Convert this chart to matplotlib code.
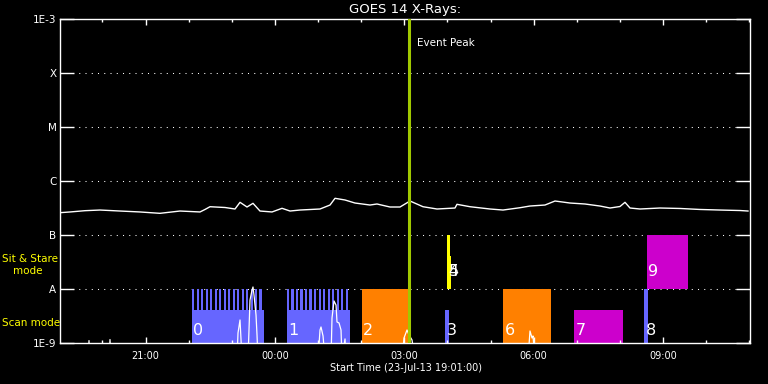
import numpy as np
import matplotlib
matplotlib.use("Agg")
import matplotlib.pyplot as plt
from matplotlib.ticker import FixedLocator, NullLocator, FixedFormatter
from matplotlib.transforms import blended_transform_factory

# ---------------- data ----------------
title = "GOES 14 X-Rays:"
x_label = "Start Time (23-Jul-13 19:01:00)"
# time axis: hours since 23-Jul-13 19:00
t_range = (1 / 60, 16 + 1 / 60)
hour_ticks = [2, 5, 8, 11, 14]
hour_labels = ["21:00", "00:00", "03:00", "06:00", "09:00"]
hour_minor = list(range(1, 17))

flux_levels = [1e-9, 1e-8, 1e-7, 1e-6, 1e-5, 1e-4, 1e-3]
flux_labels = ["1E-9", "A", "B", "C", "M", "X", "1E-3"]
grid_levels = [1e-8, 1e-7, 1e-6, 1e-5, 1e-4]

# GOES long channel (1-8 A)
goes_t = [0.017, 0.249, 0.596, 0.944, 1.408, 1.872, 2.335, 2.799, 3.263, 3.379,
          3.495, 3.843, 4.075, 4.191, 4.353, 4.492, 4.654, 4.933, 5.165, 5.350,
          5.582, 6.046, 6.278, 6.394, 6.625, 6.857, 7.205, 7.367, 7.669, 7.901,
          8.017, 8.133, 8.434, 8.759, 9.176, 9.222, 9.524, 9.988, 10.289, 10.683,
          10.915, 11.263, 11.495, 11.843, 12.190, 12.538, 12.770, 13.002, 13.118,
          13.234, 13.466, 13.930, 14.393, 14.857, 15.321, 15.785, 15.970]
goes_flux = [2.59e-7, 2.67e-7, 2.82e-7, 2.90e-7, 2.78e-7, 2.67e-7, 2.52e-7, 2.78e-7,
             2.67e-7, 2.97e-7, 3.34e-7, 3.23e-7, 3.03e-7, 4.03e-7, 3.30e-7, 3.86e-7,
             2.78e-7, 2.67e-7, 3.12e-7, 2.78e-7, 2.90e-7, 3.03e-7, 3.59e-7, 4.78e-7,
             4.45e-7, 3.91e-7, 3.59e-7, 3.75e-7, 3.30e-7, 3.30e-7, 3.75e-7, 4.26e-7,
             3.34e-7, 3.03e-7, 3.16e-7, 3.70e-7, 3.34e-7, 3.03e-7, 2.90e-7, 3.20e-7,
             3.44e-7, 3.59e-7, 4.26e-7, 3.91e-7, 3.75e-7, 3.44e-7, 3.16e-7, 3.37e-7,
             4.03e-7, 3.16e-7, 3.03e-7, 3.16e-7, 3.10e-7, 2.97e-7, 2.90e-7, 2.84e-7,
             2.78e-7]

# GOES short channel (0.5-4 A), mostly below 1E-9
low_t = [0.666, 0.689, 0.712,
         1.153, 1.176, 1.199,
         4.121, 4.144, 4.191, 4.237,
         4.376, 4.399, 4.423, 4.469, 4.492, 4.515, 4.538, 4.562, 4.585, 4.608,
         6.000, 6.046, 6.069, 6.116, 6.162,
         6.301, 6.324, 6.371, 6.417, 6.440, 6.487, 6.533, 6.556, 6.626, 6.649,
         7.947, 7.994, 8.063, 8.110, 8.179, 8.249,
         10.869, 10.915, 10.962, 10.985, 11.031]
low_flux = [5e-10, 1.11e-9, 5e-10,
            5e-10, 1.16e-9, 5e-10,
            5e-10, 1.53e-9, 2.67e-9, 5e-10,
            5e-10, 1.74e-9, 6.26e-9, 9.58e-9, 1.09e-8, 7.74e-9, 5.05e-9, 3.30e-9, 1.41e-9, 5e-10,
            5e-10, 1.74e-9, 1.98e-9, 1.35e-9, 5e-10,
            5e-10, 2.90e-9, 6.00e-9, 5.05e-9, 2.45e-9, 2.35e-9, 1.74e-9, 5e-10, 1.19e-9, 5e-10,
            5e-10, 1.24e-9, 1.74e-9, 1.41e-9, 1.14e-9, 5e-10,
            5e-10, 1.67e-9, 1.24e-9, 1.35e-9, 5e-10]

event_t = 8.11
event_label = "Event Peak"

# IRIS observation blocks
block_ids = ["0", "1", "2", "3", "4", "5", "6", "7", "8", "9"]
block_start = [3.078, 5.280, 7.019, 8.944, 8.994, 8.994, 10.289, 11.936, 13.559, 13.629]
block_end = [4.747, 6.742, 8.086, 9.037, 9.060, 9.083, 11.402, 13.072, 13.652, 14.579]
block_bottom = [1e-9, 1e-9, 1e-9, 1e-9, 1e-8, 1e-8, 1e-9, 1e-9, 1e-9, 1e-8]
block_top = [4.08e-9, 4.08e-9, 1e-8, 4.08e-9, 1e-7, 4.08e-8, 1e-8, 4.08e-9, 1e-8, 1e-7]
block_color = ["#6666ff", "#6666ff", "#ff8000", "#6666ff", "#ffff00", "#ffff00",
               "#ff8000", "#cc00cc", "#6666ff", "#cc00cc"]
label_y = [1.67e-9, 1.67e-9, 1.67e-9, 1.67e-9, 2.07e-8, 2.07e-8, 1.67e-9, 1.67e-9,
           1.67e-9, 2.07e-8]
# raster steps drawn as comb on top of the scan blocks 0 and 1
comb_blocks = [0, 1]
comb_steps = [16, 14]
comb_top = 1e-8

mode_labels = ["Sit & Stare", "mode", "Scan mode"]

# ---------------- plot ----------------
plt.rcParams["font.family"] = ["DejaVu Sans"]
fig = plt.figure(figsize=(7.68, 3.84), dpi=100, facecolor="black")
ax = fig.add_axes([60 / 768, 41 / 384, 690 / 768, 324 / 384], facecolor="black")
ax.set_yscale("log")
ax.set_xlim(*t_range)
ax.set_ylim(flux_levels[0], flux_levels[-1])

# grid (below blocks)
for lv in grid_levels:
    ax.axhline(lv, color="white", lw=0.75, ls=(0, (1, 5)), zorder=0.5)

# blocks
for i in range(len(block_ids)):
    ax.bar(block_start[i], block_top[i] - block_bottom[i], bottom=block_bottom[i],
           width=block_end[i] - block_start[i], align="edge",
           color=block_color[i], linewidth=0, zorder=1)
for bi, n in zip(comb_blocks, comb_steps):
    period = (block_end[bi] - block_start[bi]) / n
    xs = block_start[bi] + period * np.arange(n)
    ax.bar(xs, comb_top - block_top[bi], bottom=block_top[bi], width=period * 0.5,
           align="edge", color=block_color[bi], linewidth=0, zorder=1)

# curves
ax.plot(goes_t, goes_flux, color="white", lw=1.0, zorder=2)
ax.plot(low_t, low_flux, color="white", lw=0.9, zorder=2)

# block labels
for i in range(len(block_ids)):
    ax.annotate(block_ids[i], xy=(block_start[i], label_y[i]), xytext=(1, 0),
                textcoords="offset points", color="white", fontsize=11.5,
                ha="left", va="center", zorder=4)

# event line
ax.axvline(event_t, color="#a0c800", lw=2.2, zorder=3)
trans = blended_transform_factory(ax.transData, ax.transAxes)
ax.annotate(event_label, xy=(event_t, 0.926), xycoords=trans, xytext=(6, 0),
            textcoords="offset points", color="white", fontsize=7.5,
            ha="left", va="center")

# axes styling
for sp in ax.spines.values():
    sp.set_color("white")
    sp.set_linewidth(1)
ax.yaxis.set_major_locator(FixedLocator(flux_levels))
ax.yaxis.set_major_formatter(FixedFormatter(flux_labels))
ax.yaxis.set_minor_locator(NullLocator())
ax.xaxis.set_major_locator(FixedLocator(hour_ticks))
ax.xaxis.set_major_formatter(FixedFormatter(hour_labels))
ax.xaxis.set_minor_locator(FixedLocator(hour_minor))
ax.tick_params(axis="y", which="major", direction="in", length=10, width=1,
               colors="white", left=True, right=True, labelsize=7.5, pad=2.5)
ax.tick_params(axis="x", which="major", direction="in", length=4.5, width=1,
               colors="white", top=True, bottom=True, labelsize=7, pad=6)
ax.tick_params(axis="x", which="minor", direction="in", length=2.5, width=1,
               colors="white", top=True, bottom=True)

# texts
fig.text(405 / 768, 1 - 9 / 384, title, color="white", fontsize=9.5,
         ha="center", va="center")
fig.text(405.5 / 768, 1 - 368 / 384, x_label, color="white", fontsize=7,
         ha="center", va="center")
fig.text(2 / 768, 1 - 259 / 384, mode_labels[0], color="#ffff00", fontsize=7.5,
         ha="left", va="center")
fig.text(13 / 768, 1 - 271 / 384, mode_labels[1], color="#ffff00", fontsize=7.5,
         ha="left", va="center")
fig.text(2 / 768, 1 - 323.5 / 384, mode_labels[2], color="#ffff00", fontsize=7.5,
         ha="left", va="center")

fig.savefig("out.png", dpi=100, facecolor="black")
